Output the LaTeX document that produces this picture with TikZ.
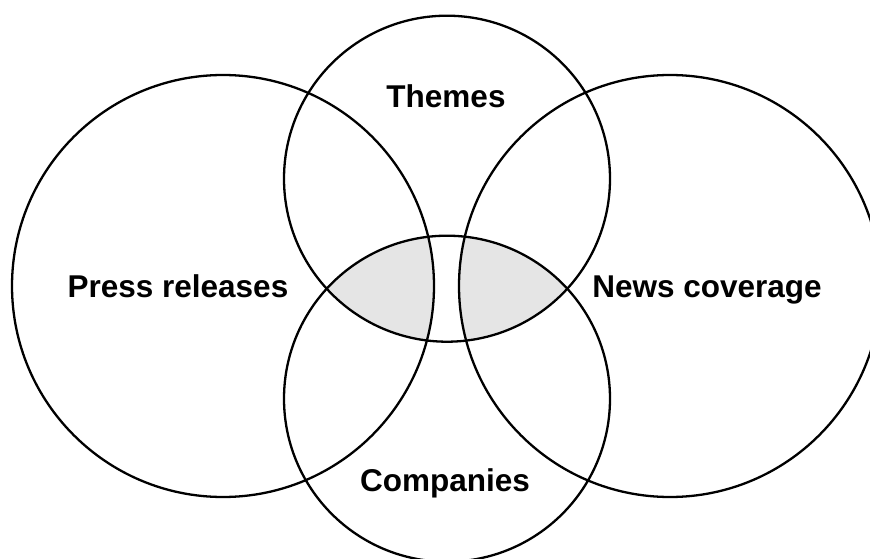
\documentclass[tikz,border=0pt]{standalone}
\usepackage{fontspec}
\setmainfont{Liberation Sans}
\begin{document}
\begin{tikzpicture}[x=1pt,y=-1pt,
  setcircle/.style={circle, draw=black, line width=2.3pt, inner sep=0pt, outer sep=0pt},
  lbl/.style={font=\fontsize{31.5}{36}\selectfont\bfseries, inner sep=0pt, anchor=base},
  shadefill/.style={fill=gray!20}]
\useasboundingbox (0,0) rectangle (870,559);
% shaded intersections
\begin{scope}
  \clip (447,178.7) circle (163);
  \clip (447,398.7) circle (163);
  \fill[shadefill] (223,286) circle (211);
  \fill[shadefill] (670,286) circle (211);
\end{scope}
% circles
\node[setcircle, minimum size=422pt] (press) at (223,286) {};
\node[setcircle, minimum size=422pt] (news) at (670,286) {};
\node[setcircle, minimum size=326pt] (themes) at (447,178.7) {};
\node[setcircle, minimum size=326pt] (comp) at (447,398.7) {};
% labels
\node[lbl] (tpress) at (178,297) {Press releases};
\node[lbl] (tnews) at (707,297) {News coverage};
\node[lbl] (tthemes) at (446,107.3) {Themes};
\node[lbl] (tcomp) at (445,491.7) {Companies};
\end{tikzpicture}
\end{document}
